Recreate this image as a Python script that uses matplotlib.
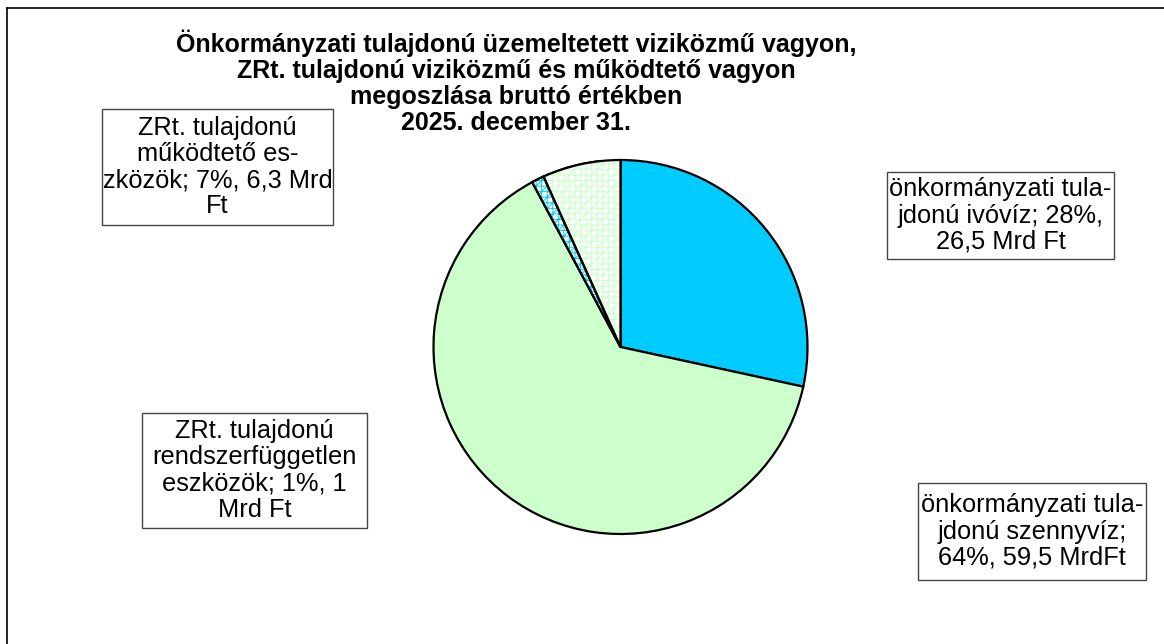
import matplotlib
matplotlib.use("Agg")
import matplotlib.pyplot as plt
from matplotlib.patches import Rectangle, Wedge
from matplotlib.lines import Line2D

# adatok (Mrd Ft)
labels = [
    "önkormányzati tula-\njdonú ivóvíz; 28%,\n26,5 Mrd Ft",
    "önkormányzati tula-\njdonú szennyvíz;\n64%, 59,5 MrdFt",
    "ZRt. tulajdonú\nrendszerfüggetlen\neszközök; 1%, 1\nMrd Ft",
    "ZRt. tulajdonú\nműködtető es-\nzközök; 7%, 6,3 Mrd\nFt",
]
values = [26.5, 59.5, 1.0, 6.3]
face_colors = ["#00CCFF", "#CCFFCC", "white", "white"]
hatch_colors = [None, None, "#00CCFF", "#CCFFCC"]

title_lines = [
    "Önkormányzati tulajdonú üzemeltetett viziközmű vagyon,",
    "ZRt. tulajdonú viziközmű és működtető vagyon",
    "megoszlása bruttó értékben",
    "2025. december 31.",
]

plt.rcParams["font.family"] = ["Liberation Sans", "DejaVu Sans"]
plt.rcParams["hatch.linewidth"] = 0.7

W, H = 1164, 644
fig = plt.figure(figsize=(W / 100, H / 100), dpi=100)

# kör pozíció pixelben
cx, cy, r = 620.5, 347, 187
ax = fig.add_axes([(cx - r) / W, (H - cy - r) / H, 2 * r / W, 2 * r / H])
ax.axis("off")

# alap szeletek
wedges, _ = ax.pie(values, colors=face_colors, startangle=90, counterclock=False,
                   radius=1, center=(0, 0), frame=False,
                   wedgeprops=dict(edgecolor="black", linewidth=1.6))

# mintázott szeletek
for w, hc in zip(wedges, hatch_colors):
    if hc is None:
        continue
    hp = Wedge((0, 0), 1, w.theta1, w.theta2, facecolor="white", edgecolor=hc,
               hatch="+++///", linewidth=0, zorder=w.get_zorder() + 0.1)
    ax.add_patch(hp)
    op = Wedge((0, 0), 1, w.theta1, w.theta2, facecolor="none", edgecolor="black",
               linewidth=1.6, zorder=w.get_zorder() + 0.2)
    ax.add_patch(op)
ax.set_xlim(-1, 1)
ax.set_ylim(-1, 1)

# címkék dobozai (pixel: x0, y0, x1, y1)
boxes = [
    (887, 172, 1114, 259),
    (918, 483, 1146, 580),
    (142, 413, 367, 528),
    (102, 109, 333, 225),
]
for lab, (x0, y0, x1, y1) in zip(labels, boxes):
    fig.patches.append(Rectangle((x0 / W, 1 - y1 / H), (x1 - x0) / W, (y1 - y0) / H,
                                 transform=fig.transFigure, facecolor="white",
                                 edgecolor="#444444", linewidth=1.0))
    fig.text((x0 + x1) / 2 / W, 1 - (y0 + y1) / 2 / H, lab, ha="center", va="center",
             multialignment="center", fontsize=18.3, linespacing=1.12)

# cím, soronként
for i, line in enumerate(title_lines):
    fig.text(516 / W, 1 - (52 + 26 * i) / H, line, ha="center", va="baseline",
             fontsize=18, fontweight="bold")

# külső keret (felső és bal oldal)
fig.lines.append(Line2D([7 / W, 1.0], [1 - 8 / H, 1 - 8 / H], transform=fig.transFigure,
                        color="black", linewidth=1.2))
fig.lines.append(Line2D([7 / W, 7 / W], [1 - 8 / H, 0.0], transform=fig.transFigure,
                        color="black", linewidth=1.2))

fig.savefig("out.png", dpi=100)
